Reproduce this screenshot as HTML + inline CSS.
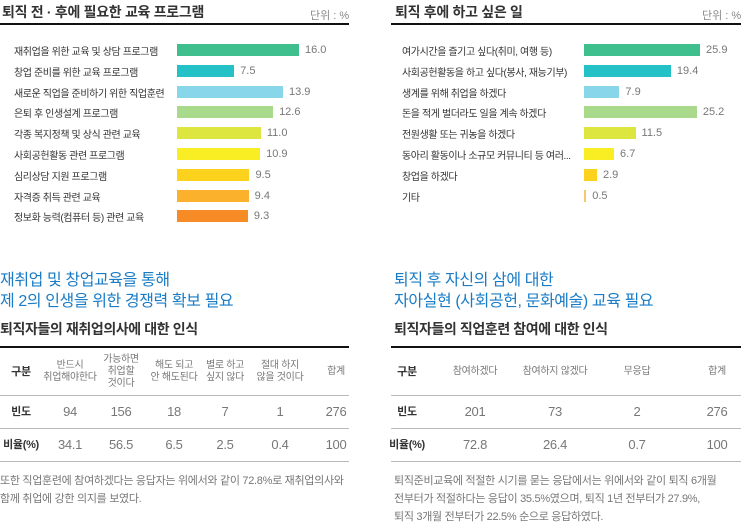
<!DOCTYPE html>
<html><head><meta charset="utf-8"><style>
body{margin:0;width:743px;height:527px;background:#fff;overflow:hidden;font-family:"Liberation Sans","Noto Sans CJK KR",sans-serif;position:relative}
.a{position:absolute;white-space:nowrap}
.t{font-size:14px;font-weight:bold;color:#333;letter-spacing:-0.3px}
.u{font-size:11px;color:#888}
.rule{position:absolute;height:2px;background:#111}
.thin{position:absolute;height:1px;background:#bbb}
.lab{font-size:10px;color:#333;letter-spacing:-0.4px}
.val{font-size:11px;color:#777}
.blue{font-size:16px;color:#1a7cc6;letter-spacing:-0.4px}
.sub{font-size:14px;font-weight:bold;color:#333;letter-spacing:-0.4px}
.c{position:absolute;transform:translateX(-50%);text-align:center;font-size:10px;color:#777;line-height:12px;letter-spacing:-0.3px}
.n{font-size:13px;color:#777}
.h{font-weight:bold;color:#333;font-size:11px}
.p{font-size:11px;color:#777;line-height:18px;letter-spacing:-0.3px}
</style></head><body>
<div class="a t" style="left:2px;top:2px">퇴직 전 · 후에 필요한 교육 프로그램</div>
<div class="a u" style="left:310px;top:7px">단위 : %</div>
<div class="rule" style="left:0;top:23px;width:349px"></div>
<div class="a t" style="left:395px;top:2px">퇴직 후에 하고 싶은 일</div>
<div class="a u" style="left:702px;top:7px">단위 : %</div>
<div class="rule" style="left:391px;top:23px;width:350px"></div>
<div id="charts"></div>

<div class="a blue" style="left:0;top:270px;line-height:21px">재취업 및 창업교육을 통해<br>제 2의 인생을 위한 경쟁력 확보 필요</div>
<div class="a sub" style="left:0;top:319px">퇴직자들의 재취업의사에 대한 인식</div>
<div class="rule" style="left:0;top:346px;width:349px"></div>
<div class="thin" style="left:0;top:395px;width:349px"></div>
<div class="thin" style="left:0;top:428px;width:349px"></div>
<div class="thin" style="left:0;top:461px;width:349px"></div>
<div class="a blue" style="left:394px;top:270px;line-height:21px">퇴직 후 자신의 삼에 대한<br>자아실현 (사회공헌, 문화예술) 교육 필요</div>
<div class="a sub" style="left:394px;top:319px">퇴직자들의 직업훈련 참여에 대한 인식</div>
<div class="rule" style="left:391px;top:346px;width:350px"></div>
<div class="thin" style="left:391px;top:395px;width:350px"></div>
<div class="thin" style="left:391px;top:428px;width:350px"></div>
<div class="thin" style="left:391px;top:461px;width:350px"></div>
<div id="tables"></div>
<div class="a p" style="left:0;top:472px">또한 직업훈련에 참여하겠다는 응답자는 위에서와 같이 72.8%로 재취업의사와<br>함께 취업에 강한 의지를 보였다.</div>
<div class="a p" style="left:394px;top:472px">퇴직준비교육에 적절한 시기를 묻는 응답에서는 위에서와 같이 퇴직 6개월<br>전부터가 적절하다는 응답이 35.5%였으며, 퇴직 1년 전부터가 27.9%,<br>퇴직 3개월 전부터가 22.5% 순으로 응답하였다.</div>
<script>
const leftCats=["재취업을 위한 교육 및 상담 프로그램","창업 준비를 위한 교육 프로그램","새로운 직업을 준비하기 위한 직업훈련","은퇴 후 인생설계 프로그램","각종 복지정책 및 상식 관련 교육","사회공헌활동 관련 프로그램","심리상담 지원 프로그램","자격증  취득 관련 교육","정보화 능력(컴퓨터 등) 관련 교육"];
const leftVals=[16.0,7.5,13.9,12.6,11.0,10.9,9.5,9.4,9.3];
const rightCats=["여가시간을 즐기고 싶다(취미, 여행 등)","사회공헌활동을 하고 싶다(봉사, 재능기부)","생계를 위해 취업을 하겠다","돈을 적게 벌더라도 일을 계속 하겠다","전원생활 또는 귀농을 하겠다","동아리 활동이나 소규모 커뮤니티 등 여러...","창업을 하겠다","기타"];
const rightVals=[25.9,19.4,7.9,25.2,11.5,6.7,2.9,0.5];
const leftColors=["#3fbf8e","#24c1c7","#88d6ea","#a9d98a","#dde63e","#f9ee24","#fdd21c","#fbb12c","#f78b26"];
const rightColors=["#3fbf8e","#24c1c7","#88d6ea","#a9d98a","#dde63e","#f9ee24","#fdd21c","#fbc56a"];
const leftHead=["구분","반드시<br>취업해야한다","가능하면<br>취업할<br>것이다","해도 되고<br>안 해도된다","별로 하고<br>싶지 않다","절대 하지<br>않을 것이다","합계"];
const leftFreq=["빈도","94","156","18","7","1","276"];
const leftPct=["비율(%)","34.1","56.5","6.5","2.5","0.4","100"];
const rightHead=["구분","참여하겠다","참여하지 않겠다","무응답","합계"];
const rightFreq=["빈도","201","73","2","276"];
const rightPct=["비율(%)","72.8","26.4","0.7","100"];
const C=document.getElementById('charts');
function chart(cats,vals,cols,labX,barX,scale,side){
 cats.forEach((c,i)=>{
  const cy=50+i*20.8;
  const l=document.createElement('div');l.className='a lab';l.style.left=labX+'px';l.style.top=(cy-7)+'px';l.textContent=c;
  
  
  C.appendChild(l);
  const w=Math.max(vals[i]*scale,1.5);
  const b=document.createElement('div');b.style.cssText=`position:absolute;left:${barX}px;top:${cy-6}px;width:${w}px;height:12px;background:${cols[i]}`;
  
  
  C.appendChild(b);
  const v=document.createElement('div');v.className='a val';v.style.left=(barX+w+6)+'px';v.style.top=(cy-6)+'px';v.textContent=vals[i].toFixed(1);
  
  
  C.appendChild(v);
 });
}
chart(leftCats,leftVals,leftColors,14,177,7.625,'left');
chart(rightCats,rightVals,rightColors,402,584,4.48,'right');
const T=document.getElementById('tables');
function row(arr,xs,cy,cls,side){
 arr.forEach((t,i)=>{
  const d=document.createElement('div');d.className='c'+(i==0?' h':(cls?' '+cls:''));d.innerHTML=t;d.style.left=xs[i]+'px';
  T.appendChild(d);d.style.top=(cy-d.offsetHeight/2)+'px';
  
  
 });
}
const lx=[21,70,121,174,225,280,336],rx=[407,475,555,637,717];
row(leftHead,lx,372,'','left');row(leftFreq,lx,412,'n','left');row(leftPct,lx,445,'n','left');
row(rightHead,rx,372,'','right');row(rightFreq,rx,412,'n','right');row(rightPct,rx,445,'n','right');
</script>
</body></html>
